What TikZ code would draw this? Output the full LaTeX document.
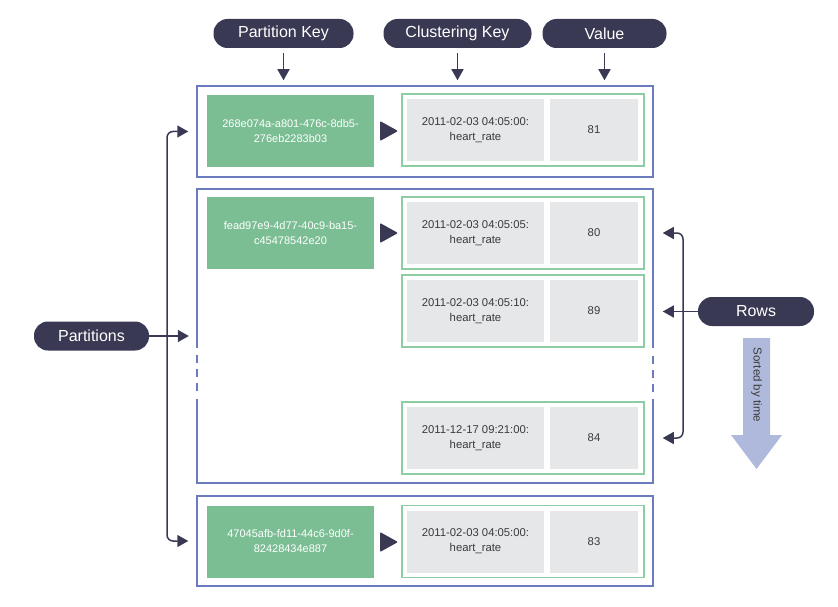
\documentclass[tikz,border=0pt]{standalone}
\usepackage{fontspec}
\setmainfont{Liberation Sans}
\usetikzlibrary{arrows.meta}
\definecolor{navy}{HTML}{393954}
\definecolor{pblue}{HTML}{6B7BBE}
\definecolor{kgreen}{HTML}{7BBE94}
\definecolor{lgreen}{HTML}{8CCDA3}
\definecolor{cgray}{HTML}{E6E7E9}
\definecolor{dtext}{HTML}{3A3A3A}
\definecolor{sortc}{HTML}{AFB9DB}
\begin{document}
\begin{tikzpicture}[x=1pt,y=-1pt,
  pill/.style={fill=navy, text=white, rounded corners=14pt, minimum height=29pt, inner sep=0pt, font=\fontsize{16}{18}\selectfont},
  part/.style={draw=pblue, line width=2.5pt, minimum width=456pt, inner sep=0pt},
  partline/.style={draw=pblue, line width=2.5pt},
  keybox/.style={fill=kgreen, text=white, minimum width=167pt, minimum height=72pt, inner sep=0pt, align=center, font=\fontsize{11}{15}\selectfont},
  rowbox/.style={draw=lgreen, line width=1.5pt, minimum width=242pt, minimum height=72pt, inner sep=0pt},
  ccell/.style={fill=cgray, text=dtext, minimum width=137pt, minimum height=62pt, inner sep=0pt, align=center, font=\fontsize{11.3}{15}\selectfont},
  vcell/.style={fill=cgray, text=dtext, minimum width=88pt, minimum height=62pt, inner sep=0pt, align=center, font=\fontsize{11.3}{15}\selectfont},
  conn/.style={draw=navy, line width=1.5pt, -{Triangle[length=11pt,width=12pt]}},
  tri/.style={fill=navy, rounded corners=1pt}
]
\useasboundingbox (0,0) rectangle (838,607);

% top labels
\node[pill, minimum width=140pt] (pk) at (283.5,33.5) {Partition Key};
\node[pill, minimum width=148pt] (ck) at (457.5,33.5) {Clustering Key};
\node[pill, minimum width=124pt] (vk) at (604.5,33.5) {Value};

% partition 1
\node[part, minimum height=91pt] (P1) at (425,131.5) {};
\node[keybox] (K1) at (290.5,131) {268e074a-a801-476c-8db5-\\276eb2283b03};
\node[rowbox] (R1) at (523,130) {};
\node[ccell] (C1) at (475.5,130) {2011-02-03 04:05:00:\\heart\_rate};
\node[vcell] (V1) at (594,130) {81};
\fill[tri] (380,121) -- (398,131) -- (380,141) -- cycle;

% partition 2 (with a gap in its sides)
\node[minimum width=456pt, minimum height=294pt, inner sep=0pt] (P2) at (425,336) {};
\draw[partline] (197,348) -- (197,189) -- (653,189) -- (653,348);
\draw[partline] (197,399) -- (197,483) -- (653,483) -- (653,399);
\draw[partline, dash pattern=on 8pt off 6pt] (197,355) -- (197,393);
\draw[partline, dash pattern=on 8pt off 6pt] (653,356) -- (653,394);
\node[keybox] (K2) at (290.5,233) {fead97e9-4d77-40c9-ba15-\\c45478542e20};
\fill[tri] (380,223) -- (398,233) -- (380,243) -- cycle;
\node[rowbox] (R2a) at (523,233) {};
\node[ccell] (C2a) at (475.5,233) {2011-02-03 04:05:05:\\heart\_rate};
\node[vcell] (V2a) at (594,233) {80};
\node[rowbox] (R2b) at (523,311) {};
\node[ccell] (C2b) at (475.5,311) {2011-02-03 04:05:10:\\heart\_rate};
\node[vcell] (V2b) at (594,311) {89};
\node[rowbox] (R2c) at (523,438) {};
\node[ccell] (C2c) at (475.5,438) {2011-12-17 09:21:00:\\heart\_rate};
\node[vcell] (V2c) at (594,438) {84};

% partition 3
\node[part, minimum height=90pt] (P3) at (425,541) {};
\node[keybox] (K3) at (290.5,541.5) {47045afb-fd11-44c6-9d0f-\\82428434e887};
\node[rowbox] (R3) at (523,541.5) {};
\node[ccell] (C3) at (475.5,541.5) {2011-02-03 04:05:00:\\heart\_rate};
\node[vcell] (V3) at (594,541.5) {83};
\fill[tri] (380,532) -- (398,542) -- (380,552) -- cycle;

% top arrows
\draw[conn, shorten <=5pt, shorten >=4.5pt] (pk.south) -- (pk.south |- P1.north);
\draw[conn, shorten <=5pt, shorten >=4.5pt] (ck.south) -- (ck.south |- P1.north);
\draw[conn, shorten <=5pt, shorten >=4.5pt] (vk.south) -- (vk.south |- P1.north);

% partitions
\node[pill, minimum width=115pt] (parts) at (91.5,336) {Partitions};
\coordinate (pj) at (167,336);
\draw[conn, shorten >=8pt] (parts.east) -- (parts.east -| P2.west);
\draw[conn, rounded corners=6pt, shorten >=7.5pt] (pj) |- (P1.west);
\draw[conn, rounded corners=6pt, shorten >=7.5pt] (pj) |- (P3.west);

% rows
\node[pill, minimum width=116pt] (rows) at (756,311.5) {Rows};
\coordinate (rj) at (683,311);
\draw[conn, shorten >=18pt] (rows.west) -- (rows.west -| R2b.east);
\draw[conn, rounded corners=6pt, shorten >=18pt] (rj) |- (R2a.east);
\draw[conn, rounded corners=6pt, shorten >=18pt] (rj) |- (R2c.east);

% sorted by time
\fill[sortc] (743,338) -- (770,338) -- (770,435) -- (782,435) -- (756.5,469) -- (731,435) -- (743,435) -- cycle;
\node[rotate=-90, text=dtext, font=\fontsize{11.5}{13}\selectfont, inner sep=0pt] (sorted) at (756.5,385) {Sorted by time};
\end{tikzpicture}
\end{document}
